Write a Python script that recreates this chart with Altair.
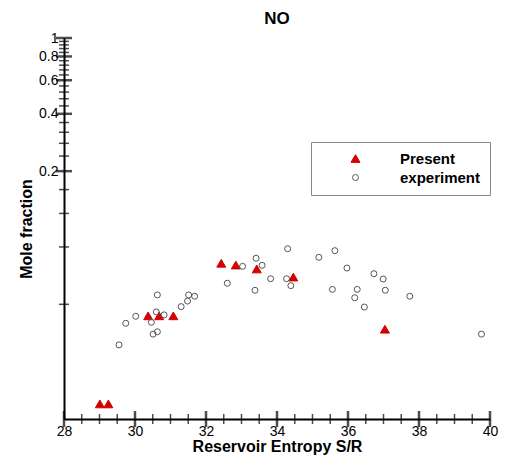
import altair as alt
import pandas as pd

# ---- data ----
present_x = [29.01, 29.25, 30.37, 30.68, 31.08, 32.43, 32.84, 33.43, 34.46, 37.04]
present_y = [0.0120, 0.0120, 0.0348, 0.0348, 0.0348, 0.0657, 0.0643, 0.0613, 0.0556, 0.0296]

exp_x = [29.55, 29.74, 30.02, 30.46, 30.51, 30.63, 30.60, 30.63, 30.82, 31.30,
         31.48, 31.51, 31.68, 32.60, 33.03, 33.41, 33.38, 33.58, 34.30, 33.82,
         34.27, 34.39, 35.18, 35.63, 35.97, 35.56, 36.73, 36.99, 36.26, 36.19,
         37.05, 36.46, 37.74, 39.76]
exp_y = [0.0245, 0.0318, 0.0346, 0.0322, 0.0279, 0.0287, 0.0365, 0.0448, 0.0352, 0.0389,
         0.0416, 0.0448, 0.0441, 0.0516, 0.0633, 0.0698, 0.0474, 0.0641, 0.0783, 0.0545,
         0.0545, 0.0501, 0.0706, 0.0765, 0.0620, 0.0479, 0.0579, 0.0543, 0.0479, 0.0433,
         0.0474, 0.0387, 0.0441, 0.0279]

series_names = ["Present", "experiment"]
x_major = [28, 30, 32, 34, 36, 38, 40]
x_minor = [28.5, 29, 29.5, 30.5, 31, 31.5, 32.5, 33, 33.5, 34.5, 35, 35.5,
           36.5, 37, 37.5, 38.5, 39, 39.5]
y_major = [0.2, 0.4, 0.6, 0.8, 1.0]
y_minor = [0.04, 0.08, 0.12, 0.16, 0.24, 0.28, 0.32, 0.36, 0.44, 0.48, 0.52, 0.56,
           0.64, 0.68, 0.72, 0.76, 0.84, 0.88, 0.92, 0.96]

# ---- layout / style ----
FONT = "Liberation Sans"
W, H = 426, 381
X0, X1 = 28, 40
Y0, Y1 = 0.01, 1.0
MAJ, MIN = 8, 5

df = pd.DataFrame({
    "x": present_x + exp_x,
    "y": present_y + exp_y,
    "series": [series_names[0]] * len(present_x) + [series_names[1]] * len(exp_x),
})

xscale = alt.Scale(domain=[X0, X1], nice=False, zero=False)
yscale = alt.Scale(type="log", domain=[Y0, Y1], nice=False)

xaxis = alt.Axis(values=x_major, format="d", title="Reservoir Entropy S/R",
                 ticks=False, grid=False, labelFlush=False, labelOverlap=False,
                 labelPadding=5, titlePadding=0)
yaxis = alt.Axis(values=y_major, format="~g", title="Mole fraction",
                 ticks=False, grid=False, labelFlush=False, labelOverlap=False,
                 labelPadding=6, titlePadding=4)

leg = alt.Legend(title=None, orient="none", legendX=247, legendY=104)

points = alt.Chart(df).mark_point(opacity=1, strokeWidth=1).encode(
    x=alt.X("x:Q", scale=xscale, axis=xaxis),
    y=alt.Y("y:Q", scale=yscale, axis=yaxis),
    shape=alt.Shape("series:N", scale=alt.Scale(domain=series_names, range=["triangle-up", "circle"]), legend=leg),
    fill=alt.Fill("series:N", scale=alt.Scale(domain=series_names, range=["#d40000", "transparent"]), legend=leg),
    stroke=alt.Stroke("series:N", scale=alt.Scale(domain=series_names, range=["#d40000", "#555555"]), legend=leg),
    size=alt.Size("series:N", scale=alt.Scale(domain=series_names, range=[80, 36]), legend=leg),
)

# inward tick marks (major + minor) drawn as marks on the data scales
xt_maj = pd.DataFrame({"x": x_major, "y": [Y0] * len(x_major)})
xt_min = pd.DataFrame({"x": x_minor, "y": [Y0] * len(x_minor)})
yt_maj = pd.DataFrame({"y": y_major, "x": [X0] * len(y_major)})
yt_min = pd.DataFrame({"y": y_minor, "x": [X0] * len(y_minor)})

def xtick(d, L, w):
    return alt.Chart(d).mark_tick(color="#000000", orient="vertical", size=2 * L, thickness=w).encode(
        x=alt.X("x:Q", scale=xscale, axis=xaxis),
        y=alt.Y("y:Q", scale=yscale, axis=yaxis))

def ytick(d, L, w):
    return alt.Chart(d).mark_tick(color="#000000", orient="horizontal", size=2 * L, thickness=w).encode(
        x=alt.X("x:Q", scale=xscale, axis=xaxis),
        y=alt.Y("y:Q", scale=yscale, axis=yaxis))

chart = alt.layer(
    xtick(xt_maj, MAJ, 2.5), xtick(xt_min, MIN, 1.5),
    ytick(yt_maj, MAJ, 2.5), ytick(yt_min, MIN, 1.5), points
).properties(
    width=W, height=H,
    title=alt.TitleParams("NO", fontSize=17, fontWeight="bold", font=FONT,
                          anchor="middle", offset=3, color="black"),
    padding={"left": 56, "top": 30, "right": 9, "bottom": 36},
    autosize=alt.AutoSizeParams(type="none"),
).configure_view(stroke=None).configure_axis(
    domainColor="black", domainWidth=2, labelFont=FONT, labelFontSize=14,
    labelColor="black", titleFont=FONT, titleFontSize=16, titleFontWeight="bold",
    titleColor="black",
).configure_legend(
    strokeColor="#888888", padding=9, labelFont=FONT,
    labelFontSize=15, labelFontWeight="bold", labelColor="black",
    symbolOffset=28, labelOffset=37, rowPadding=3, symbolStrokeWidth=1,
)

chart.save("out.html", embed_options={"renderer": "svg", "actions": False})
